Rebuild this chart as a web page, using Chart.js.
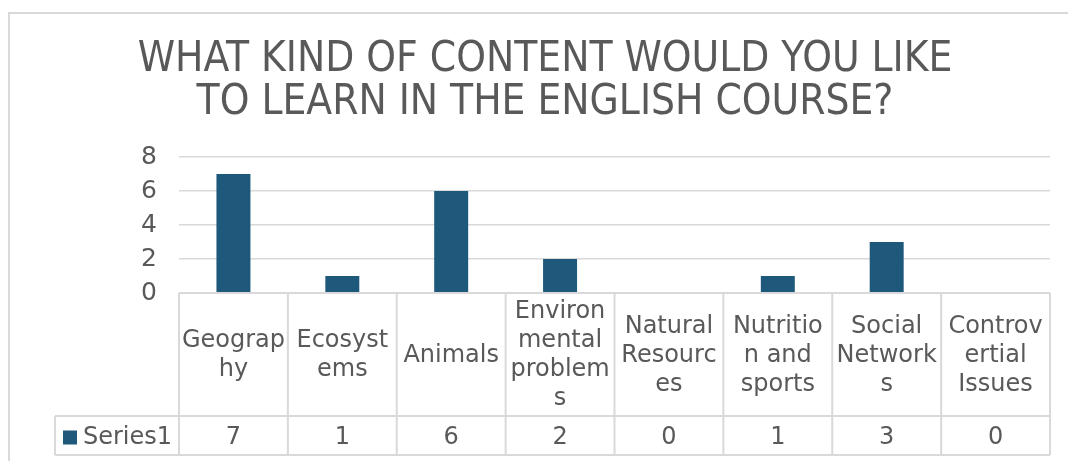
<!DOCTYPE html>
<html><head><meta charset="utf-8">
<script src="https://cdn.jsdelivr.net/npm/chart.js@4/dist/chart.umd.min.js"></script>
<style>html,body{margin:0;padding:0;background:#fff;overflow:hidden;}</style>
</head><body>
<canvas id="c" width="1068" height="461"></canvas>
<script>
const titleLines = ['WHAT KIND OF CONTENT WOULD YOU LIKE', 'TO LEARN IN THE ENGLISH COURSE?'];
const categories = ['Geography', 'Ecosystems', 'Animals', 'Environmental problems', 'Natural Resources', 'Nutrition and sports', 'Social Networks', 'Controversial Issues'];
const categoryLines = [['Geograp', 'hy'], ['Ecosyst', 'ems'], ['Animals'], ['Environ', 'mental', 'problem', 's'], ['Natural', 'Resourc', 'es'], ['Nutritio', 'n and', 'sports'], ['Social', 'Network', 's'], ['Controv', 'ertial', 'Issues']];
const seriesName = 'Series1';
const seriesValues = [7, 1, 6, 2, 0, 1, 3, 0];
const yTickValues = [0, 2, 4, 6, 8];

const BAR = '#1e587a';
const TEXT = '#595959';
const LINE = '#d9d9d9';
const FONT = '"DejaVu Sans", Verdana, sans-serif';
const TITLE_FONT = '"DejaVu Sans Condensed", "DejaVu Sans", sans-serif';

const frame = {
  id: 'frame',
  beforeDraw(chart) {
    const ctx = chart.ctx;
    ctx.save();
    ctx.fillStyle = '#fff';
    ctx.fillRect(0, 0, chart.width, chart.height);
    ctx.strokeStyle = LINE;
    ctx.lineWidth = 2;
    ctx.beginPath();
    ctx.moveTo(9, chart.height);
    ctx.lineTo(9, 13);
    ctx.lineTo(chart.width, 13);
    ctx.stroke();
    ctx.restore();
  }
};

const dataTable = {
  id: 'dataTable',
  afterDraw(chart) {
    const { ctx, chartArea } = chart;
    const xs = chart.scales.x;
    const n = categories.length;
    const left = chartArea.left, right = chartArea.right;
    const step = (right - left) / n;
    const top = chartArea.bottom;
    const mid = top + 123;
    const bot = mid + 39;
    const legendLeft = 55;
    ctx.save();
    ctx.strokeStyle = LINE;
    ctx.lineWidth = 2;
    ctx.beginPath();
    ctx.moveTo(left, top); ctx.lineTo(right, top);
    ctx.moveTo(legendLeft, mid); ctx.lineTo(right, mid);
    ctx.moveTo(legendLeft, bot); ctx.lineTo(right, bot);
    for (let i = 0; i <= n; i++) {
      const xx = left + i * step;
      ctx.moveTo(xx, top); ctx.lineTo(xx, bot);
    }
    ctx.moveTo(legendLeft, mid); ctx.lineTo(legendLeft, bot);
    ctx.stroke();

    ctx.fillStyle = TEXT;
    ctx.font = '24px ' + FONT;
    ctx.textAlign = 'center';
    ctx.textBaseline = 'middle';
    const lh = 29;
    const cy = (top + mid) / 2 + 1;
    const vy = (mid + bot) / 2 + 2;
    categoryLines.forEach((lines, i) => {
      const cx = xs.getPixelForValue(i);
      const y0 = cy - (lines.length - 1) * lh / 2;
      lines.forEach((t, j) => ctx.fillText(t, cx, y0 + j * lh));
      ctx.fillText(String(seriesValues[i]), cx, vy);
    });
    ctx.fillStyle = BAR;
    ctx.fillRect(63, vy - 7, 14, 14);
    ctx.fillStyle = TEXT;
    ctx.textAlign = 'left';
    ctx.fillText(seriesName, 83, vy);
    ctx.restore();
  }
};

new Chart(document.getElementById('c'), {
  type: 'bar',
  data: {
    labels: categories,
    datasets: [{
      label: seriesName,
      data: seriesValues,
      backgroundColor: BAR,
      barPercentage: 0.312,
      categoryPercentage: 1
    }]
  },
  options: {
    responsive: false,
    devicePixelRatio: 1,
    animation: false,
    layout: { padding: { left: 40, right: 18, top: 0, bottom: 168 } },
    plugins: {
      legend: { display: false },
      tooltip: { enabled: false },
      title: {
        display: true,
        text: titleLines,
        color: TEXT,
        font: { family: TITLE_FONT, size: 42, weight: 'normal', lineHeight: 1.024 },
        padding: { top: 39, bottom: 32 }
      }
    },
    scales: {
      x: { display: false, offset: true },
      y: {
        min: 0, max: 8,
        afterFit(s) { s.width = 139; },
        afterBuildTicks(s) { s.ticks = yTickValues.map(v => ({ value: v })); },
        grid: { color: LINE, lineWidth: 1.5, drawTicks: false },
        border: { display: false },
        ticks: { color: TEXT, font: { family: FONT, size: 25 }, padding: 22 }
      }
    }
  },
  plugins: [frame, dataTable]
});
</script>
</body></html>
